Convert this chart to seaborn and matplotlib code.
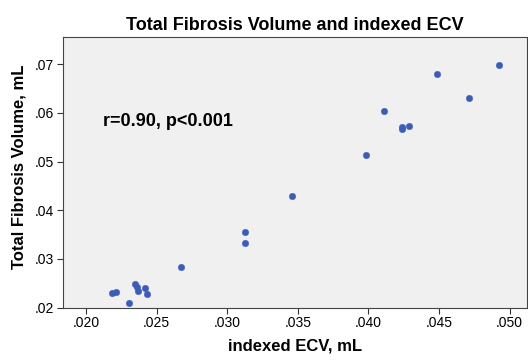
import matplotlib
matplotlib.use("Agg")
import matplotlib.pyplot as plt
import seaborn as sns
import pandas as pd
from matplotlib.ticker import FuncFormatter

indexed_ecv = [0.04925, 0.04483, 0.04715, 0.04111, 0.04236, 0.04236, 0.04285, 0.03983,
               0.03459, 0.03126, 0.03126, 0.02673,
               0.02345, 0.02363, 0.02366, 0.02418, 0.02432, 0.02210, 0.02182, 0.02302]
fibrosis_vol = [0.0698, 0.0680, 0.0631, 0.0604, 0.0570, 0.0566, 0.0573, 0.0513,
                0.0429, 0.0355, 0.0333, 0.0283,
                0.0249, 0.0243, 0.0234, 0.0240, 0.0229, 0.0232, 0.0230, 0.0210]
x_ticks = [0.020, 0.025, 0.030, 0.035, 0.040, 0.045, 0.050]
y_ticks = [0.02, 0.03, 0.04, 0.05, 0.06, 0.07]

df = pd.DataFrame({"indexed ECV, mL": indexed_ecv, "Total Fibrosis Volume, mL": fibrosis_vol})

sns.set_style("ticks")
plt.rcParams['font.family'] = ['Liberation Sans', 'DejaVu Sans']
plt.rcParams['text.color'] = 'black'
plt.rcParams['axes.labelcolor'] = 'black'
plt.rcParams['xtick.color'] = 'black'
plt.rcParams['ytick.color'] = 'black'

fig = plt.figure(figsize=(5.28, 3.6), dpi=100)
ax = fig.add_axes([0.1188, 0.1453, 0.8792, 0.7517])
ax.set_facecolor("#F0F0F0")

sns.scatterplot(data=df, x="indexed ECV, mL", y="Total Fibrosis Volume, mL", ax=ax,
                color="#3D5CB8", s=22, edgecolor="#3D5CB8", linewidth=0.3)

ax.set_xlim(0.01835, 0.05123)
ax.set_ylim(0.02, 0.07555)
ax.set_xticks(x_ticks)
ax.set_yticks(y_ticks)
ax.xaxis.set_major_formatter(FuncFormatter(lambda v, p: f"{v:.3f}".lstrip("0")))
ax.yaxis.set_major_formatter(FuncFormatter(lambda v, p: f"{v:.2f}".lstrip("0")))
ax.tick_params(axis="both", labelsize=10, length=4, width=0.8, color="#333333", pad=2)

for sp in ax.spines.values():
    sp.set_color("#444444")
    sp.set_linewidth(0.8)

ax.set_xlabel("indexed ECV, mL", fontsize=12, fontweight="bold", labelpad=6)
ax.set_ylabel("Total Fibrosis Volume, mL", fontsize=12, fontweight="bold", labelpad=6, y=0.52)
ax.set_title("Total Fibrosis Volume and indexed ECV", fontsize=13, fontweight="bold", pad=5)

ax.text(0.0212, 0.0583, "r=0.90, p<0.001", fontsize=13, fontweight="bold", va="center", ha="left")

fig.savefig("out.png", dpi=100)
